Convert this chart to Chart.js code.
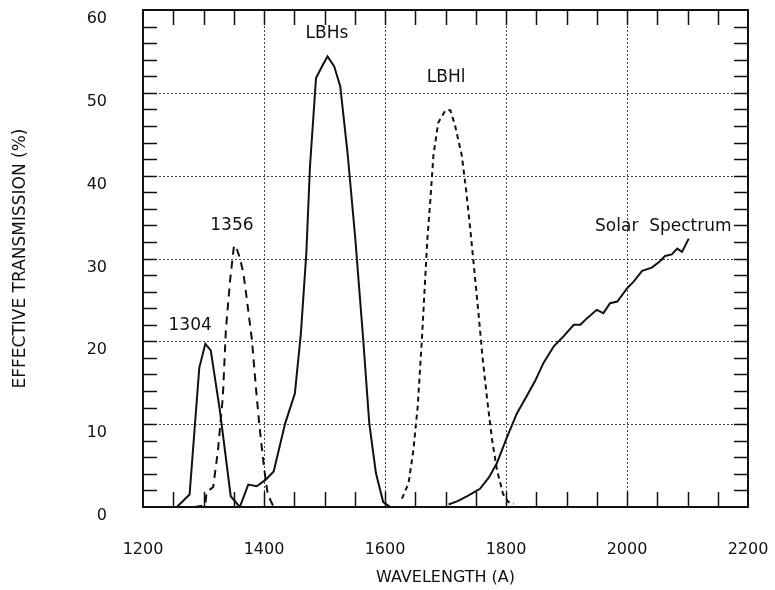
<!DOCTYPE html>
<html>
<head>
<meta charset="utf-8">
<script src="https://cdn.jsdelivr.net/npm/chart.js@4.4.0/dist/chart.umd.min.js"></script>
<style>
  html, body { margin: 0; padding: 0; background: #fff; }
  #wrap { width: 775px; height: 590px; }
</style>
</head>
<body>
<div id="wrap"><canvas id="myChart" width="775" height="590"></canvas></div>
<script>
// wavelength (A) / effective transmission (%)
const wl1304 = [1256, 1277, 1293, 1303, 1312, 1327, 1345, 1360];
const tr1304 = [0, 1.5, 16.8, 19.7, 18.9, 11.7, 1.3, 0];

const wl1356 = [1285, 1303, 1305, 1316, 1324, 1332, 1337, 1344, 1350, 1353, 1360, 1366, 1370, 1380, 1387, 1393, 1400, 1406, 1412, 1416];
const tr1356 = [0, 0.2, 1.8, 2.4, 6.9, 13.3, 21.4, 27.4, 31.3, 31.6, 30.1, 28.2, 26, 20.2, 14.1, 9.4, 4.8, 1.6, 0.6, 0];

const wlLBHs = [1360, 1374, 1388, 1403, 1416, 1435, 1451, 1461, 1470, 1476, 1486, 1496, 1505, 1516, 1526, 1538, 1551, 1564, 1574, 1585, 1597, 1609];
const trLBHs = [0, 2.7, 2.5, 3.3, 4.3, 10.1, 13.7, 21, 30.7, 41.1, 51.8, 53.2, 54.4, 53.2, 50.8, 42.8, 32.3, 20.2, 10.1, 4.1, 0.6, 0];

const wlLBHl = [1628, 1639, 1647, 1654, 1661, 1666, 1670, 1675, 1680, 1688, 1700, 1708, 1716, 1727, 1734, 1741, 1748, 1755, 1761, 1769, 1777, 1785, 1795, 1804, 1813];
const trLBHl = [1, 2.9, 6.9, 12.1, 20.2, 27, 32.3, 37.1, 42.4, 46.4, 47.9, 47.9, 46, 42.4, 38.3, 33.5, 28.3, 23, 18.2, 12.9, 8.1, 4.5, 1.6, 0.6, 0.4];

const wlSolar = [1705, 1720, 1736, 1757, 1772, 1785, 1802, 1818, 1835, 1848, 1862, 1879, 1895, 1912, 1923, 1934, 1950, 1961, 1972, 1984, 2000, 2011, 2025, 2041, 2055, 2063, 2074, 2083, 2091, 2102];
const trSolar = [0.3, 0.7, 1.3, 2.2, 3.6, 5.3, 8.5, 11.3, 13.5, 15.2, 17.4, 19.4, 20.6, 22, 22, 22.8, 23.8, 23.4, 24.6, 24.8, 26.4, 27.2, 28.5, 28.9, 29.7, 30.3, 30.5, 31.2, 30.8, 32.4];

// curve labels (text, wavelength, transmission)
const labelText = ['1304', '1356', 'LBHs', 'LBHl', 'Solar  Spectrum'];
const labelWl = [1278, 1347, 1504, 1701, 2060];
const labelTr = [21.9, 34, 57.1, 51.9, 33.9];

const xTicks = [1200, 1400, 1600, 1800, 2000, 2200];
const yTicks = [0, 10, 20, 30, 40, 50, 60];

function pts(xs, ys) {
  return xs.map((x, i) => ({ x: x, y: ys[i] }));
}

function series(xs, ys, dash) {
  return {
    data: pts(xs, ys),
    borderColor: '#111',
    borderWidth: 2,
    borderDash: dash,
    pointRadius: 0,
    tension: 0,
    fill: false
  };
}

const FONT = 'DejaVu Sans';

// grid, frame, inner minor ticks and curve labels
const decor = {
  id: 'decor',
  beforeDatasetsDraw(chart) {
    const { ctx, chartArea: a, scales: { x, y } } = chart;
    ctx.save();
    ctx.strokeStyle = '#444';
    ctx.lineWidth = 1;
    ctx.setLineDash([2, 2]);
    x.ticks.forEach(t => {
      if (t.value <= x.min || t.value >= x.max) return;
      const px = Math.round(x.getPixelForValue(t.value)) + 0.5;
      ctx.beginPath(); ctx.moveTo(px, a.top); ctx.lineTo(px, a.bottom); ctx.stroke();
    });
    y.ticks.forEach(t => {
      if (t.value <= y.min || t.value >= y.max) return;
      const py = Math.round(y.getPixelForValue(t.value)) + 0.5;
      ctx.beginPath(); ctx.moveTo(a.left, py); ctx.lineTo(a.right, py); ctx.stroke();
    });
    ctx.restore();
  },
  afterDatasetsDraw(chart) {
    const { ctx, chartArea: a, scales: { x, y } } = chart;
    ctx.save();
    ctx.strokeStyle = '#111';
    ctx.lineWidth = 1.5;
    for (let v = x.min + 50; v < x.max; v += 50) {
      const px = Math.round(x.getPixelForValue(v)) + 0.5;
      ctx.beginPath(); ctx.moveTo(px, a.bottom); ctx.lineTo(px, a.bottom - 15); ctx.stroke();
      ctx.beginPath(); ctx.moveTo(px, a.top); ctx.lineTo(px, a.top + 15); ctx.stroke();
    }
    for (let v = y.min + 2; v < y.max; v += 2) {
      const py = Math.round(y.getPixelForValue(v)) + 0.5;
      ctx.beginPath(); ctx.moveTo(a.left, py); ctx.lineTo(a.left + 14, py); ctx.stroke();
      ctx.beginPath(); ctx.moveTo(a.right, py); ctx.lineTo(a.right - 14, py); ctx.stroke();
    }
    ctx.lineWidth = 2;
    ctx.strokeRect(a.left, a.top, a.right - a.left, a.bottom - a.top);

    ctx.fillStyle = '#111';
    ctx.font = '17px "' + FONT + '"';
    ctx.textAlign = 'center';
    ctx.textBaseline = 'middle';
    labelText.forEach((s, i) => {
      ctx.fillText(s, x.getPixelForValue(labelWl[i]), y.getPixelForValue(labelTr[i]));
    });
    ctx.restore();
  }
};

const ctx = document.getElementById('myChart').getContext('2d');

new Chart(ctx, {
  type: 'line',
  data: {
    datasets: [
      series(wl1304, tr1304, []),
      series(wl1356, tr1356, [8, 6]),
      series(wlLBHs, trLBHs, []),
      series(wlLBHl, trLBHl, [5, 4]),
      series(wlSolar, trSolar, [])
    ]
  },
  options: {
    responsive: false,
    animation: false,
    devicePixelRatio: 1,
    layout: { padding: { top: 10, right: 27, left: 0, bottom: 0 } },
    plugins: {
      legend: { display: false },
      tooltip: { enabled: false }
    },
    scales: {
      x: {
        type: 'linear',
        min: 1200,
        max: 2200,
        afterBuildTicks: s => { s.ticks = xTicks.map(v => ({ value: v })); },
        afterFit: s => {
          s.height = 83;
          s.paddingLeft = 0; s.paddingRight = 0;
        },
        grid: { display: false, drawTicks: false },
        border: { display: false },
        ticks: {
          padding: 33,
          color: '#111',
          font: { family: FONT, size: 16 },
          callback: v => String(v)
        },
        title: {
          display: true,
          text: 'WAVELENGTH (A)',
          color: '#111',
          font: { family: FONT, size: 16 },
          padding: { top: 0, bottom: 3 }
        }
      },
      y: {
        min: 0,
        max: 60,
        afterBuildTicks: s => { s.ticks = yTicks.map(v => ({ value: v })); },
        afterFit: s => {
          s.width = 143;
          s.paddingTop = 0; s.paddingBottom = 0;
        },
        grid: { display: false, drawTicks: false },
        border: { display: false },
        ticks: {
          padding: 36,
          labelOffset: 9,
          color: '#111',
          font: { family: FONT, size: 16 },
          callback: v => String(v)
        },
        title: {
          display: true,
          text: 'EFFECTIVE TRANSMISSION (%)',
          color: '#111',
          font: { family: FONT, size: 17 },
          padding: { top: 10, bottom: 0 }
        }
      }
    }
  },
  plugins: [decor]
});
</script>
</body>
</html>
